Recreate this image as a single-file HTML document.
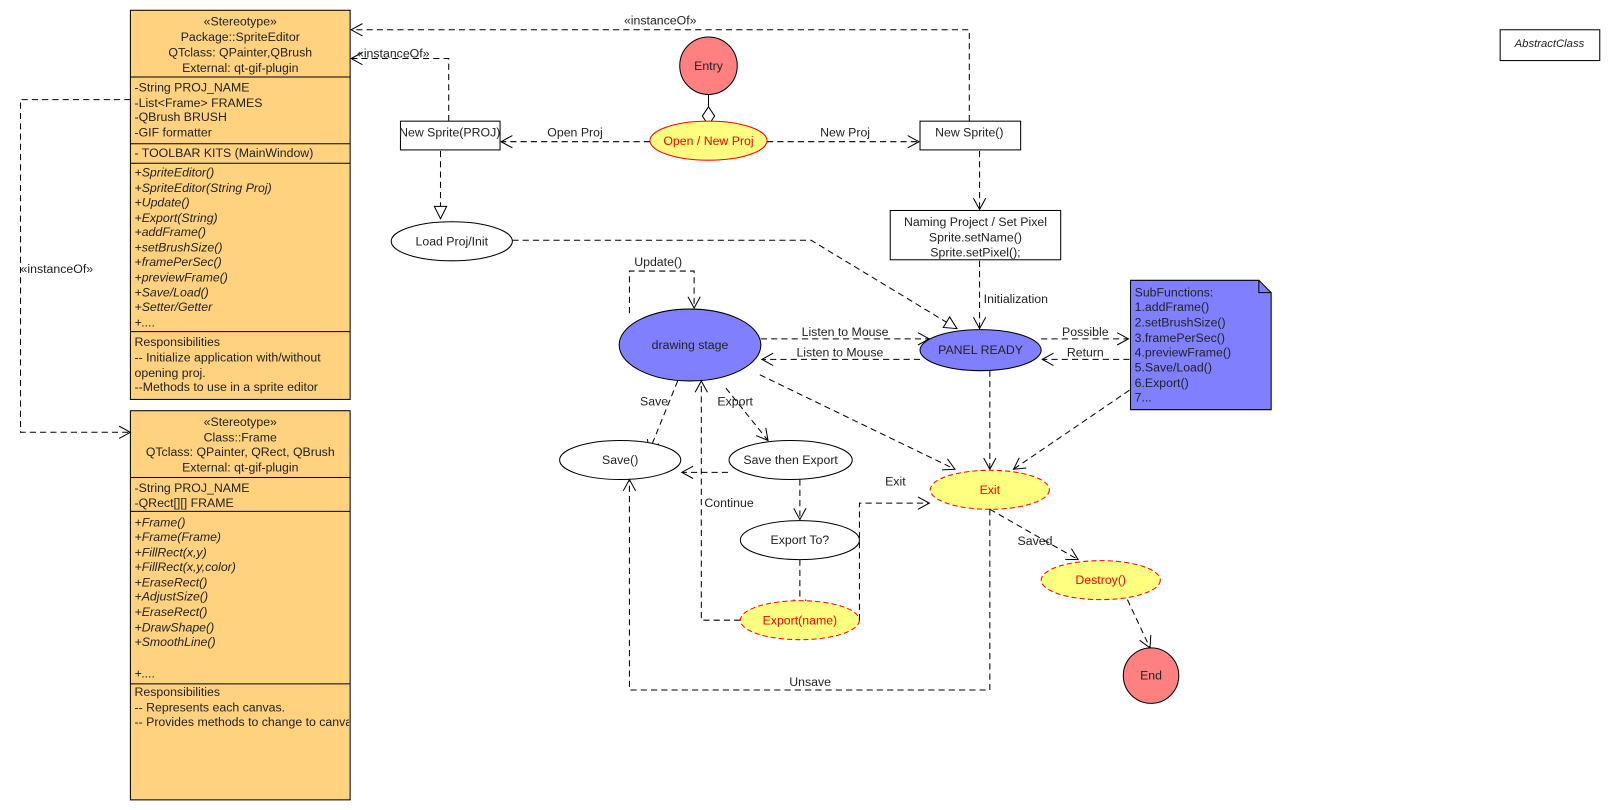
<!DOCTYPE html>
<html><head><meta charset="utf-8"><style>
html,body{margin:0;padding:0;background:#fff;}
svg{display:block;font-family:"Liberation Sans","Noto Sans CJK SC",sans-serif;font-size:12px;}
text{fill:#222;}
.c{text-anchor:middle;}
.d{fill:none;stroke:#000;stroke-dasharray:6,4;stroke-width:1;}
.i{font-style:italic;}
</style></head><body>
<svg width="1610" height="810" viewBox="0 0 1610 810" xmlns="http://www.w3.org/2000/svg">
<defs>
<marker id="a" markerUnits="userSpaceOnUse" markerWidth="14" markerHeight="14" refX="12" refY="7" orient="auto"><path d="M1,1 L12,7 L1,13" fill="none" stroke="#000"/></marker>
<marker id="t" markerUnits="userSpaceOnUse" markerWidth="16" markerHeight="16" refX="13" refY="7" orient="auto"><path d="M1,1 L13,7 L1,13 Z" fill="#fff" stroke="#000"/></marker>
</defs>
<g transform="scale(1.0268)">
<!-- Class 1 -->
<rect x="127" y="10" width="214" height="379" fill="#ffd280" stroke="#000"/>
<line x1="127" y1="75" x2="341" y2="75" stroke="#000"/>
<line x1="127" y1="140" x2="341" y2="140" stroke="#000"/>
<line x1="127" y1="159" x2="341" y2="159" stroke="#000"/>
<line x1="127" y1="323" x2="341" y2="323" stroke="#000"/>
<text class="c" x="234" y="25">«Stereotype»</text>
<text class="c" x="234" y="40">Package::SpriteEditor</text>
<text class="c" x="234" y="55">QTclass: QPainter,QBrush</text>
<text class="c" x="234" y="70">External: qt-gif-plugin</text>
<text x="131" y="89">-String PROJ_NAME</text>
<text x="131" y="104">-List&lt;Frame&gt; FRAMES</text>
<text x="131" y="118">-QBrush BRUSH</text>
<text x="131" y="133">-GIF formatter</text>
<text x="131" y="153">- TOOLBAR KITS (MainWindow)</text>
<g class="i">
<text x="131" y="172">+SpriteEditor()</text>
<text x="131" y="187">+SpriteEditor(String Proj)</text>
<text x="131" y="201">+Update()</text>
<text x="131" y="216">+Export(String)</text>
<text x="131" y="230">+addFrame()</text>
<text x="131" y="245">+setBrushSize()</text>
<text x="131" y="259">+framePerSec()</text>
<text x="131" y="274">+previewFrame()</text>
<text x="131" y="289">+Save/Load()</text>
<text x="131" y="303">+Setter/Getter</text>
<text x="131" y="318">+....</text>
</g>
<text x="131" y="337">Responsibilities</text>
<text x="131" y="352">-- Initialize application with/without</text>
<text x="131" y="367">opening proj.</text>
<text x="131" y="381">--Methods to use in a sprite editor</text>

<!-- Class 2 -->
<rect x="127" y="400" width="214" height="379" fill="#ffd280" stroke="#000"/>
<line x1="127" y1="465" x2="341" y2="465" stroke="#000"/>
<line x1="127" y1="498" x2="341" y2="498" stroke="#000"/>
<line x1="127" y1="666" x2="341" y2="666" stroke="#000"/>
<text class="c" x="234" y="415">«Stereotype»</text>
<text class="c" x="234" y="430">Class::Frame</text>
<text class="c" x="234" y="444">QTclass: QPainter, QRect, QBrush</text>
<text class="c" x="234" y="459">External: qt-gif-plugin</text>
<text x="131" y="479">-String PROJ_NAME</text>
<text x="131" y="494">-QRect[][] FRAME</text>
<g class="i">
<text x="131" y="513">+Frame()</text>
<text x="131" y="527">+Frame(Frame)</text>
<text x="131" y="542">+FillRect(x,y)</text>
<text x="131" y="556">+FillRect(x,y,color)</text>
<text x="131" y="571">+EraseRect()</text>
<text x="131" y="585">+AdjustSize()</text>
<text x="131" y="600">+EraseRect()</text>
<text x="131" y="615">+DrawShape()</text>
<text x="131" y="629">+SmoothLine()</text>
<text x="131" y="660">+....</text>
</g>
<svg x="127" y="666" width="213" height="60" overflow="hidden">
<text x="4" y="12">Responsibilities</text>
<text x="4" y="27">-- Represents each canvas.</text>
<text x="4" y="41">-- Provides methods to change to canvas</text>
</svg>

<path class="d" d="M127,97 H20 V421 H127" marker-end="url(#a)"/>
<text x="20" y="266">«instanceOf»</text>

<path class="d" d="M944,118 V29 H342" marker-end="url(#a)"/>
<text class="c" x="643" y="24">«instanceOf»</text>
<path class="d" d="M437,118 V57 H342" marker-end="url(#a)"/>
<text class="c" x="383" y="56">«instanceOf»</text>

<circle cx="690" cy="64" r="28" fill="#ff8080" stroke="#000"/>
<text class="c" x="690" y="68">Entry</text>
<line x1="690" y1="92" x2="690" y2="104" stroke="#000"/>
<path d="M690,104 L696,113 L690,122 L684,113 Z" fill="#fff" stroke="#000"/>
<ellipse cx="690" cy="137" rx="57" ry="19" fill="#ffff80" stroke="#f00"/>
<text class="c" x="690" y="141" style="fill:#f00">Open / New Proj</text>

<path class="d" d="M633,138 H488" marker-end="url(#a)"/>
<text class="c" x="560" y="133">Open Proj</text>
<path class="d" d="M747,138 H895" marker-end="url(#a)"/>
<text class="c" x="823" y="133">New Proj</text>

<rect x="390" y="118" width="97" height="28" fill="#fff" stroke="#000"/>
<text class="c" x="438" y="133">New Sprite(PROJ)</text>
<rect x="896" y="118" width="98" height="28" fill="#fff" stroke="#000"/>
<text class="c" x="944" y="133">New Sprite()</text>

<path class="d" d="M954,147 V204" marker-end="url(#a)"/>
<rect x="867" y="205" width="166" height="48" fill="#fff" stroke="#000"/>
<text class="c" x="950" y="220">Naming Project / Set Pixel</text>
<text class="c" x="950" y="235">Sprite.setName()</text>
<text class="c" x="950" y="250">Sprite.setPixel();</text>
<path class="d" d="M954,254 V320" marker-end="url(#a)"/>
<text x="958" y="295">Initialization</text>

<path class="d" d="M429,147 V213" marker-end="url(#t)"/>
<ellipse cx="440" cy="235" rx="59" ry="19" fill="#fff" stroke="#000"/>
<text class="c" x="440" y="239">Load Proj/Init</text>
<path class="d" d="M499,234 H790 L932,320" marker-end="url(#t)"/>

<ellipse cx="955" cy="341" rx="59" ry="20" fill="#8080ff" stroke="#000"/>
<text class="c" x="955" y="345">PANEL READY</text>

<path class="d" d="M613,305 V264 H676 V300" marker-end="url(#a)"/>
<text class="c" x="641" y="259">Update()</text>
<ellipse cx="672" cy="336" rx="69" ry="35" fill="#8080ff" stroke="#000"/>
<text class="c" x="672" y="340">drawing stage</text>

<path class="d" d="M741,330 H905" marker-end="url(#a)"/>
<text class="c" x="823" y="327">Listen to Mouse</text>
<path class="d" d="M896,350 H742" marker-end="url(#a)"/>
<text class="c" x="818" y="347">Listen to Mouse</text>
<path class="d" d="M1014,330 H1099" marker-end="url(#a)"/>
<text class="c" x="1057" y="327">Possible</text>
<path class="d" d="M1100,350 H1015" marker-end="url(#a)"/>
<text class="c" x="1057" y="347">Return</text>

<path d="M1101,273 H1226 L1238,285 V399 H1101 Z" fill="#8080ff" stroke="#000"/>
<path d="M1226,273 V285 H1238" fill="none" stroke="#000"/>
<text x="1105" y="289">SubFunctions:</text>
<text x="1105" y="303">1.addFrame()</text>
<text x="1105" y="318">2.setBrushSize()</text>
<text x="1105" y="333">3.framePerSec()</text>
<text x="1105" y="347">4.previewFrame()</text>
<text x="1105" y="362">5.Save/Load()</text>
<text x="1105" y="377">6.Export()</text>
<text x="1105" y="391">7...</text>

<path class="d" d="M1100,380 L987,457" marker-end="url(#a)"/>
<path class="d" d="M964,361 V457" marker-end="url(#a)"/>
<path class="d" d="M740,365 L930,457" marker-end="url(#a)"/>

<ellipse cx="964" cy="477" rx="58" ry="19" fill="#ffff80" stroke="#f00" stroke-dasharray="5,3"/>
<text class="c" x="964" y="481" style="fill:#f00">Exit</text>

<path class="d" d="M660,371 L632,440" marker-end="url(#a)"/>
<text class="c" x="637" y="395">Save</text>
<path class="d" d="M707,378 L748,429" marker-end="url(#a)"/>
<text class="c" x="716" y="395">Export</text>
<ellipse cx="604" cy="448" rx="59" ry="19" fill="#fff" stroke="#000"/>
<text class="c" x="604" y="452">Save()</text>
<ellipse cx="770" cy="448" rx="60" ry="19" fill="#fff" stroke="#000"/>
<text class="c" x="770" y="452">Save then Export</text>
<path class="d" d="M709,460 H664" marker-end="url(#a)"/>
<path class="d" d="M721,604 H683 V371" marker-end="url(#a)"/>
<text x="686" y="494">Continue</text>
<path class="d" d="M779,467 V506" marker-end="url(#a)"/>
<ellipse cx="779" cy="526" rx="58" ry="19" fill="#fff" stroke="#000"/>
<text class="c" x="779" y="530">Export To?</text>
<path class="d" d="M779,545 V595" marker-end="url(#a)"/>
<ellipse cx="779" cy="604" rx="58" ry="19" fill="#ffff80" stroke="#f00" stroke-dasharray="5,3"/>
<text class="c" x="779" y="608" style="fill:#f00">Export(name)</text>
<path class="d" d="M837,604 V490 H905" marker-end="url(#a)"/>
<text class="c" x="872" y="473">Exit</text>

<path class="d" d="M964,496 V672 H613 V467" marker-end="url(#a)"/>
<text class="c" x="789" y="668">Unsave</text>

<path class="d" d="M964,496 L1050,545" marker-end="url(#a)"/>
<text class="c" x="1008" y="531">Saved</text>
<ellipse cx="1072" cy="565" rx="58" ry="19" fill="#ffff80" stroke="#f00" stroke-dasharray="5,3"/>
<text class="c" x="1072" y="569" style="fill:#f00">Destroy()</text>
<path class="d" d="M1098,584 L1120,631" marker-end="url(#a)"/>
<circle cx="1121" cy="658" r="27" fill="#ff8080" stroke="#000"/>
<text class="c" x="1121" y="662">End</text>

<rect x="1461" y="29" width="97" height="30" fill="#fff" stroke="#000"/>
<text class="c i" x="1509" y="46" font-size="11">AbstractClass</text>
</g>
</svg>
</body></html>
